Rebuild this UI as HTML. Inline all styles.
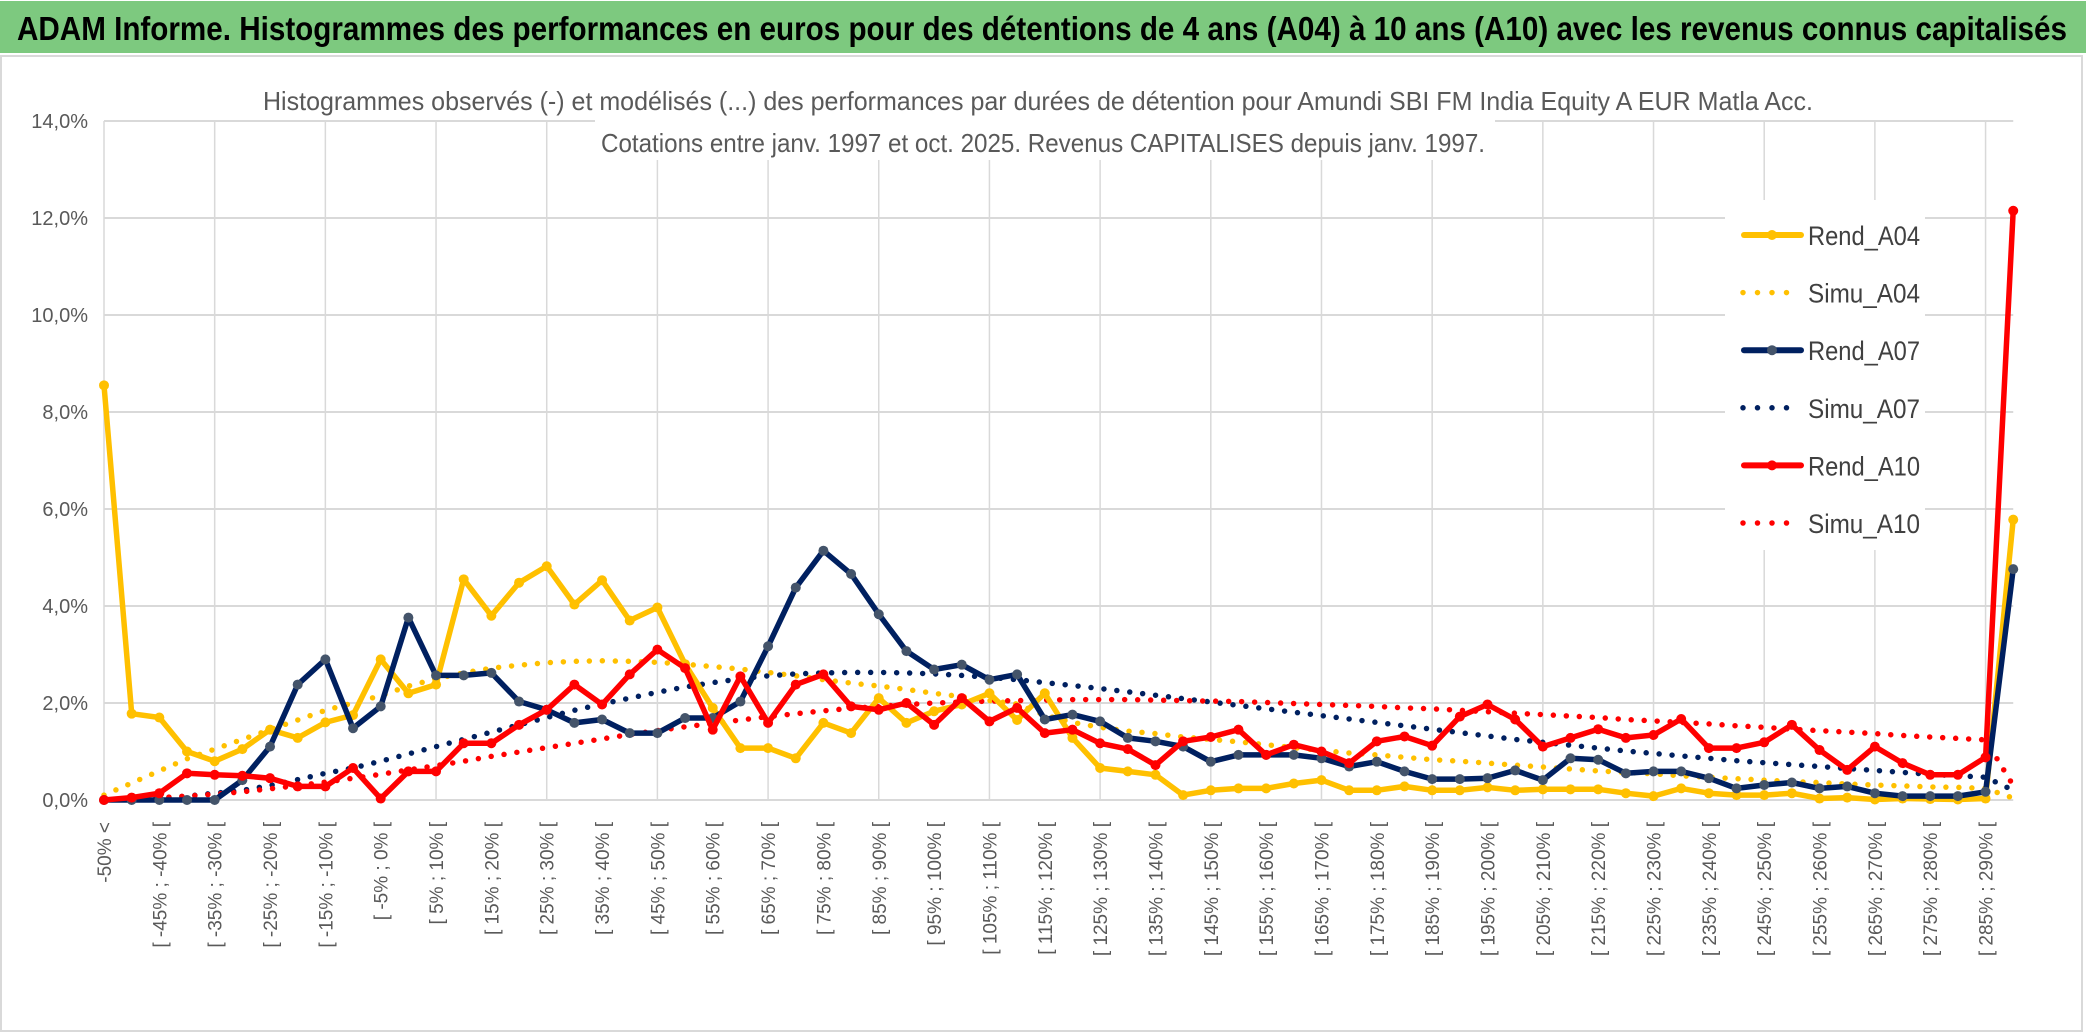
<!DOCTYPE html>
<html><head><meta charset="utf-8"><style>
html,body{margin:0;padding:0;background:#fff;}
svg{display:block;}
text{font-family:"Liberation Sans",sans-serif;}
</style></head><body>
<svg id="chart" width="2086" height="1033" viewBox="0 0 2086 1033" xmlns="http://www.w3.org/2000/svg">
<rect x="0" y="0" width="2086" height="1033" fill="#fff"/>
<rect x="0" y="1" width="2086" height="52" fill="#7DC97F"/>
<text x="17" y="40" font-size="33" font-weight="bold" fill="#000" textLength="2050" lengthAdjust="spacingAndGlyphs">ADAM Informe. Histogrammes des performances en euros pour des détentions de 4 ans (A04) à 10 ans (A10) avec les revenus connus capitalisés</text>
<rect x="1" y="56" width="2081" height="975" fill="none" stroke="#d9d9d9" stroke-width="2"/>
<g id="grid"></g>
<rect x="128" y="60" width="1800" height="100" fill="#fff" opacity="0" />
<rect x="255" y="70" width="1570" height="42" fill="#fff"/>
<rect x="595" y="118" width="900" height="42" fill="#fff"/>
<text x="1038" y="110" text-anchor="middle" font-size="26" fill="#595959" textLength="1550" lengthAdjust="spacingAndGlyphs">Histogrammes observés (-) et modélisés (...) des performances par durées de détention pour Amundi SBI FM India Equity A EUR Matla Acc.</text>
<text x="1043" y="152" text-anchor="middle" font-size="26" fill="#595959" textLength="884" lengthAdjust="spacingAndGlyphs">Cotations entre janv. 1997 et oct. 2025. Revenus CAPITALISES depuis janv. 1997.</text>
<g id="yaxis"></g>
<g id="xaxis"></g>
<g id="series"></g>
<rect x="1725" y="200" width="200" height="350" fill="#fff"/>
<g id="legend"></g>
</svg>
<script>
const categories = ["-50% <"];
for (let k = 1; k < 70; k++) { const a = -50 + 5 * (k - 1); categories.push("[ " + a + "% ; " + (a + 5) + "% ["); }
const yTicks = [0, 2, 4, 6, 8, 10, 12, 14];
const yTickLabels = ["0,0%", "2,0%", "4,0%", "6,0%", "8,0%", "10,0%", "12,0%", "14,0%"];
const rendA04 = [8.55,1.78,1.7,1.0,0.8,1.05,1.45,1.28,1.6,1.75,2.9,2.2,2.38,4.55,3.8,4.48,4.82,4.03,4.53,3.7,3.97,2.8,1.9,1.07,1.07,0.86,1.59,1.38,2.1,1.59,1.83,1.97,2.2,1.65,2.2,1.28,0.66,0.59,0.52,0.1,0.2,0.24,0.24,0.34,0.41,0.2,0.2,0.28,0.2,0.2,0.26,0.2,0.22,0.22,0.22,0.14,0.08,0.24,0.14,0.1,0.1,0.14,0.03,0.05,0.01,0.03,0.02,0.01,0.03,5.78];
const simuA04 = [0.1,0.35,0.6,0.85,1.05,1.25,1.45,1.65,1.85,2.0,2.15,2.35,2.5,2.62,2.72,2.78,2.83,2.86,2.87,2.86,2.84,2.8,2.75,2.7,2.63,2.56,2.48,2.41,2.35,2.28,2.2,2.13,2.05,1.98,1.75,1.6,1.5,1.42,1.37,1.3,1.25,1.2,1.14,1.08,1.02,0.97,0.93,0.88,0.83,0.8,0.76,0.72,0.68,0.64,0.6,0.57,0.54,0.5,0.47,0.44,0.41,0.38,0.36,0.33,0.31,0.29,0.27,0.26,0.24,0.04];
const rendA07 = [0,0,0,0,0,0.41,1.1,2.38,2.9,1.48,1.93,3.76,2.57,2.57,2.62,2.03,1.86,1.59,1.66,1.38,1.38,1.69,1.69,2.03,3.17,4.38,5.14,4.66,3.83,3.07,2.69,2.79,2.48,2.59,1.66,1.76,1.62,1.28,1.21,1.1,0.79,0.93,0.93,0.93,0.86,0.69,0.79,0.59,0.43,0.43,0.45,0.61,0.41,0.86,0.83,0.55,0.59,0.59,0.45,0.24,0.31,0.36,0.24,0.28,0.14,0.08,0.08,0.08,0.17,4.76];
const simuA07 = [0.0,0.02,0.04,0.08,0.14,0.2,0.3,0.42,0.55,0.66,0.8,0.95,1.1,1.25,1.4,1.55,1.7,1.85,1.98,2.1,2.22,2.33,2.42,2.5,2.56,2.6,2.62,2.63,2.63,2.62,2.6,2.57,2.53,2.48,2.42,2.36,2.3,2.23,2.16,2.09,2.02,1.95,1.88,1.81,1.74,1.67,1.6,1.53,1.46,1.39,1.32,1.25,1.19,1.13,1.07,1.01,0.96,0.91,0.86,0.81,0.77,0.73,0.69,0.65,0.61,0.57,0.53,0.5,0.47,0.2];
const rendA10 = [0,0.05,0.14,0.55,0.52,0.5,0.45,0.28,0.28,0.66,0.03,0.59,0.59,1.17,1.17,1.55,1.86,2.38,1.97,2.59,3.1,2.72,1.45,2.55,1.59,2.38,2.59,1.93,1.86,2.0,1.55,2.1,1.62,1.9,1.38,1.45,1.17,1.05,0.72,1.21,1.3,1.45,0.93,1.14,1.0,0.76,1.21,1.31,1.12,1.72,1.97,1.66,1.1,1.28,1.46,1.28,1.34,1.67,1.07,1.07,1.19,1.55,1.03,0.62,1.1,0.76,0.52,0.52,0.88,12.15];
const simuA10 = [0.0,0.02,0.05,0.08,0.12,0.17,0.23,0.3,0.37,0.45,0.53,0.62,0.71,0.8,0.9,0.99,1.08,1.17,1.26,1.35,1.43,1.51,1.58,1.65,1.72,1.78,1.84,1.89,1.93,1.97,2.0,2.02,2.04,2.05,2.06,2.07,2.07,2.07,2.06,2.05,2.04,2.03,2.01,1.99,1.97,1.95,1.93,1.9,1.88,1.85,1.82,1.79,1.76,1.73,1.7,1.66,1.63,1.6,1.57,1.53,1.5,1.46,1.43,1.4,1.37,1.33,1.3,1.27,1.24,0.3];
const seriesNames = ["Rend_A04","Simu_A04","Rend_A07","Simu_A07","Rend_A10","Simu_A10"];

const NS = "http://www.w3.org/2000/svg";
const X0 = 104, XSTEP = 27.67, Y0 = 800, YPER = 48.5;
function xScale(i){ return X0 + i * XSTEP; }
function yScale(v){ return Y0 - v * YPER; }
function mk(tag, attrs, parent){ const e = document.createElementNS(NS, tag); for (const k in attrs) e.setAttribute(k, attrs[k]); parent.appendChild(e); return e; }

const grid = document.getElementById("grid");
const xEnd = xScale(categories.length - 1);
yTicks.forEach((t) => {
  const l = mk("line", {x1: X0, x2: xEnd, y1: yScale(t), y2: yScale(t), stroke: "#d9d9d9", "stroke-width": 2}, grid);
  
  
});
for (let i = 0; i < categories.length; i += 4) {
  const l = mk("line", {x1: xScale(i), x2: xScale(i), y1: yScale(14), y2: Y0, stroke: "#d9d9d9", "stroke-width": 1.5}, grid);
  
  
}
const ya = document.getElementById("yaxis");
yTicks.forEach((t, k) => {
  const tx = mk("text", {x: 88, y: yScale(t) + 7, "text-anchor": "end", "font-size": 20, fill: "#595959"}, ya);
  tx.textContent = yTickLabels[k];
  
  
});
const xa = document.getElementById("xaxis");
for (let i = 0; i < categories.length; i += 2) {
  const x = xScale(i) + 7;
  const tx = mk("text", {x: x, y: 822, transform: "rotate(-90 " + x + " 822)", "text-anchor": "end", "font-size": 19, fill: "#595959", "font-family": "DejaVu Sans, sans-serif"}, xa);
  tx.textContent = categories[i];
  
  
}
const sg = document.getElementById("series");
function pts(arr){ return arr.map((v, i) => xScale(i).toFixed(1) + "," + yScale(v).toFixed(1)).join(" "); }
function dotted(arr, color, name){
  const p = mk("polyline", {points: pts(arr), fill: "none", stroke: color, "stroke-width": 5.5, "stroke-linecap": "round", "stroke-dasharray": "0 13"}, sg);
  
  
}
function solid(arr, color, mcolor, name){
  const p = mk("polyline", {points: pts(arr), fill: "none", stroke: color, "stroke-width": 5.5, "stroke-linejoin": "round"}, sg);
  
  
  arr.forEach((v, i) => {
    const c = mk("circle", {cx: xScale(i), cy: yScale(v), r: 5, fill: mcolor}, sg);
    
    
  });
}
dotted(simuA04, "#FFC000", "simu-a04-line");
dotted(simuA07, "#002060", "simu-a07-line");
dotted(simuA10, "#FF0000", "simu-a10-line");
solid(rendA04, "#FFC000", "#FFC000", "rend-a04-line");
solid(rendA07, "#002060", "#44546A", "rend-a07-line");
solid(rendA10, "#FF0000", "#FF0000", "rend-a10-line");

const lg = document.getElementById("legend");
const lgColors = ["#FFC000","#FFC000","#002060","#002060","#FF0000","#FF0000"];
const lgMarker = ["#FFC000",null,"#44546A",null,"#FF0000",null];
seriesNames.forEach((n, k) => {
  const y = 235 + k * 57.6;
  const g = mk("g", {}, lg);
  
  
  if (lgMarker[k]) {
    mk("line", {x1: 1744, x2: 1801, y1: y, y2: y, stroke: lgColors[k], "stroke-width": 6, "stroke-linecap": "round"}, g);
    mk("circle", {cx: 1772, cy: y, r: 5, fill: lgMarker[k]}, g);
  } else {
    mk("line", {x1: 1743, x2: 1800, y1: y, y2: y, stroke: lgColors[k], "stroke-width": 5.5, "stroke-linecap": "round", "stroke-dasharray": "0 14.5"}, g);
  }
  const t = mk("text", {x: 1808, y: y + 10, "font-size": 27, fill: "#404040", textLength: 112, lengthAdjust: "spacingAndGlyphs"}, g);
  t.textContent = n;
});
</script>
</body></html>
